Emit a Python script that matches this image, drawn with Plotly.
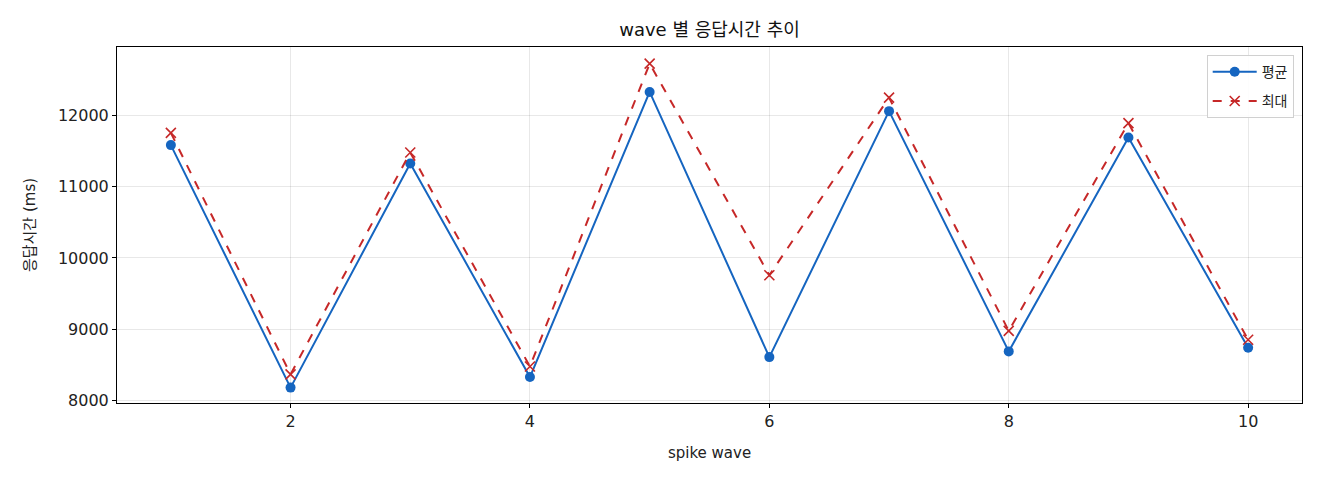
import plotly.graph_objects as go

waves = [1, 2, 3, 4, 5, 6, 7, 8, 9, 10]
avg_ms = [11585, 8178, 11327, 8327, 12332, 8607, 12062, 8687, 11691, 8739]
max_ms = [11757, 8365, 11481, 8475, 12729, 9757, 12252, 8975, 11893, 8851]
x_ticks = [2, 4, 6, 8, 10]
y_ticks = [8000, 9000, 10000, 11000, 12000]

FONT = "DejaVu Sans, Noto Sans CJK KR"
BLUE = "#1565C0"
RED = "#C62828"

fig = go.Figure()
fig.add_trace(go.Scatter(
    x=waves, y=avg_ms, mode="lines+markers", name="평균", legendgroup="a",
    line=dict(color=BLUE, width=2),
    marker=dict(symbol="circle", size=10, color=BLUE),
))
fig.add_trace(go.Scatter(
    x=waves, y=max_ms, mode="lines+markers", name="최대", legendgroup="b",
    line=dict(color=RED, width=2, dash="dash"),
    marker=dict(symbol="x-thin", size=10, color=RED, line=dict(color=RED, width=1.6)),
))

axis_common = dict(
    showline=True, linecolor="black", linewidth=1, mirror=True,
    ticks="outside", ticklen=4, tickcolor="black",
    showgrid=True, gridcolor="rgba(0,0,0,0.09)", gridwidth=1,
    zeroline=False, automargin=False,
    tickfont=dict(family=FONT, size=16, color="#222"),
)

fig.update_layout(
    width=1320, height=480,
    margin=dict(l=109, r=26, t=39, b=85),
    paper_bgcolor="white", plot_bgcolor="white",
    font=dict(family=FONT, size=15, color="#222"),
    title=dict(text="wave 별 응답시간 추이", x=0.5, xref="paper", xanchor="center",
               y=1 - 22 / 480, yanchor="middle", font=dict(family=FONT, size=18, color="#111")),
    xaxis=dict(axis_common, range=[0.55, 10.45], tickvals=x_ticks,
               title=dict(text="spike wave", font=dict(family=FONT, size=15), standoff=17)),
    yaxis=dict(axis_common, range=[7962, 12963], tickvals=y_ticks, tickformat="d",
               title=dict(text="응답시간 (ms)", font=dict(family=FONT, size=15), standoff=18)),
    legend=dict(x=0.993, y=0.977, xanchor="right", yanchor="top",
                bgcolor="rgba(255,255,255,0.9)", bordercolor="#d0d0d0", borderwidth=1,
                font=dict(family=FONT, size=14), traceorder="grouped", tracegroupgap=8,
                itemwidth=44),
    showlegend=True,
)

fig.write_html("out.html")
